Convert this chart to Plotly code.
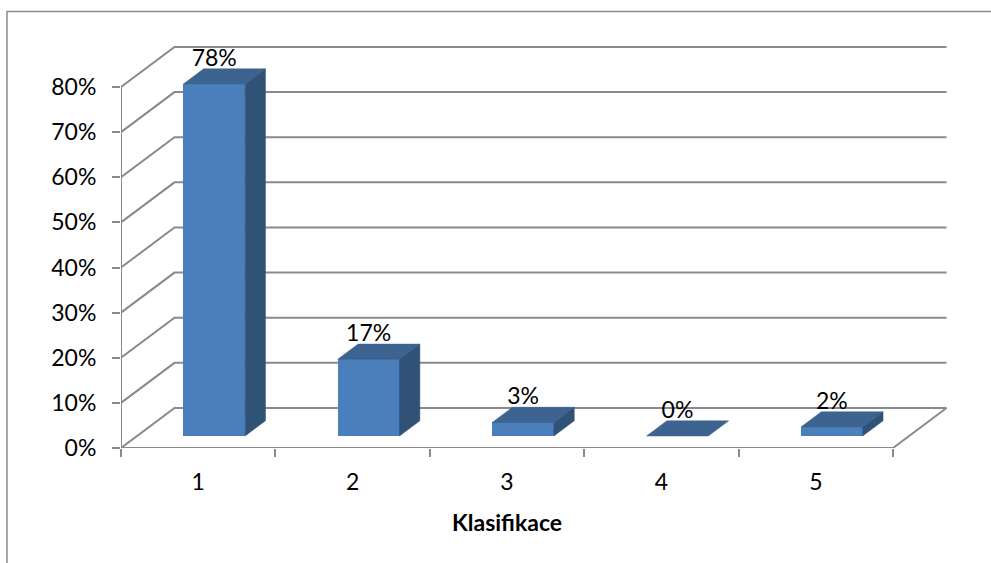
import plotly.graph_objects as go

# Share of each classification grade, in percent
categories = [1, 2, 3, 4, 5]
values = [78, 17, 3, 0, 2]
value_labels = ["78%", "17%", "3%", "0%", "2%"]
wall_levels = [0, 10, 20, 30, 40, 50, 60, 70, 80]
wall_tick_labels = ["0%", "10%", "20%", "30%", "40%", "50%", "60%", "70%", "80%"]

WIDTH, HEIGHT = 991, 563
LEFT, FLOOR_RIGHT, LEVEL_80, BOTTOM = 121, 893, 87, 448
PLOT_RIGHT, PLOT_TOP = 965, 20

X_START, X_END = 0.5, 5.5
Y_MAX = 80
X_SCALE = (FLOOR_RIGHT - LEFT) / (X_END - X_START)
Y_SCALE = (BOTTOM - LEVEL_80) / Y_MAX

# The plot area also has to hold the receding walls, so the ranges run past the floor
X_RANGE = [X_START, X_START + (PLOT_RIGHT - LEFT) / X_SCALE]
Y_RANGE = [0, (BOTTOM - PLOT_TOP) / Y_SCALE]

# Oblique projection: a full step in depth moves this far along each axis
DEPTH_X = 53.5 / X_SCALE
DEPTH_Y = 40 / Y_SCALE

BAR_WIDTH = 0.4
BAR_NEAR, BAR_FAR = 0.3, 0.68
LABEL_GAP = 5.3

FRONT, TOP_FACE, SIDE = "#4b7fbc", "#3d6391", "#315277"
GRID = "#8a8a8a"
FONT = "Lato"
TEXT_SIZE = 23


def project(x, y, depth):
    return x + depth * DEPTH_X, y + depth * DEPTH_Y


def polygon(points, color):
    xs = [project(*p)[0] for p in points]
    ys = [project(*p)[1] for p in points]
    return go.Scatter(x=xs + xs[:1], y=ys + ys[:1], mode="lines", fill="toself",
                      fillcolor=color, line=dict(color=color, width=0.5),
                      hoverinfo="skip", showlegend=False,
                      xaxis="x2", yaxis="y2")


fig = go.Figure()

# Walls: one polyline per gridline level, then the front edges and the floor's right edge
wall_x, wall_y = [], []


def add_path(points):
    for p in points:
        px, py = project(*p)
        wall_x.append(px)
        wall_y.append(py)
    wall_x.append(None)
    wall_y.append(None)


for level in wall_levels:
    add_path([(X_START, level, 0), (X_START, level, 1), (X_END, level, 1)])
add_path([(X_START, Y_MAX, 0), (X_START, 0, 0), (X_END, 0, 0), (X_END, 0, 1)])

fig.add_trace(go.Scatter(x=wall_x, y=wall_y, mode="lines",
                         line=dict(color=GRID, width=2), hoverinfo="skip", showlegend=False))

# Front faces of the columns sit on an overlay so they cover the walls
near_x = [project(c, 0, BAR_NEAR)[0] for c in categories]
near_base = project(0, 0, BAR_NEAR)[1]
fig.add_trace(go.Bar(x=near_x, y=values, base=near_base, width=BAR_WIDTH,
                     marker=dict(color=FRONT, line=dict(width=0)),
                     showlegend=False, xaxis="x2", yaxis="y2"))

# Top and side faces of each column
for c, v in zip(categories, values):
    x0, x1 = c - BAR_WIDTH / 2, c + BAR_WIDTH / 2
    fig.add_trace(polygon([(x0, v, BAR_NEAR), (x1, v, BAR_NEAR), (x1, v, BAR_FAR), (x0, v, BAR_FAR)], TOP_FACE))
    if v > 0:
        fig.add_trace(polygon([(x1, 0, BAR_NEAR), (x1, v, BAR_NEAR), (x1, v, BAR_FAR), (x1, 0, BAR_FAR)], SIDE))

# Value labels above each column
fig.add_trace(go.Scatter(
    x=near_x, y=[v + near_base + LABEL_GAP for v in values], mode="text", text=value_labels,
    textposition="middle center", textfont=dict(family=FONT, size=TEXT_SIZE, color="#000000"),
    hoverinfo="skip", showlegend=False, xaxis="x2", yaxis="y2"))

x_domain = [LEFT / WIDTH, PLOT_RIGHT / WIDTH]
y_domain = [1 - BOTTOM / HEIGHT, 1 - PLOT_TOP / HEIGHT]

fig.update_layout(
    width=WIDTH, height=HEIGHT, autosize=False,
    margin=dict(l=0, r=0, t=0, b=0, pad=0),
    paper_bgcolor="#ffffff", plot_bgcolor="#ffffff",
    font=dict(family=FONT, size=TEXT_SIZE, color="#000000"),
    bargap=0,
    xaxis=dict(domain=x_domain, range=X_RANGE, tickvals=categories, ticktext=[str(c) for c in categories],
               ticks="", showgrid=False, zeroline=False, showline=False, automargin=False,
               ticklabelstandoff=18, tickfont=dict(size=TEXT_SIZE),
               minor=dict(ticks="outside", ticklen=8, tickwidth=2, tickcolor=GRID, tick0=0.5, dtick=1, showgrid=False)),
    yaxis=dict(domain=y_domain, range=Y_RANGE, tickvals=wall_levels, ticktext=wall_tick_labels,
               ticks="outside", ticklen=8, tickwidth=2, tickcolor=GRID, showgrid=False, zeroline=False,
               showline=False, automargin=False, ticklabelstandoff=11, tickfont=dict(size=TEXT_SIZE)),
    xaxis2=dict(domain=x_domain, range=X_RANGE, overlaying="x", visible=False, automargin=False),
    yaxis2=dict(domain=y_domain, range=Y_RANGE, overlaying="y", visible=False, automargin=False),
    annotations=[dict(text="<b>Klasifikace</b>", xref="x", yref="paper", x=3, y=1 - 522 / HEIGHT,
                      yanchor="middle", showarrow=False,
                      font=dict(family=FONT, size=TEXT_SIZE, color="#000000"))],
    # Chart frame, cropped at the right and bottom of the page
    shapes=[dict(type="path", xref="paper", yref="paper",
                 path=f"M {7 / WIDTH} 0 L {7 / WIDTH} {1 - 11.5 / HEIGHT} L 1 {1 - 11.5 / HEIGHT}",
                 line=dict(color=GRID, width=1.5))],
)

fig.write_html("out.html", config={"displayModeBar": False})
